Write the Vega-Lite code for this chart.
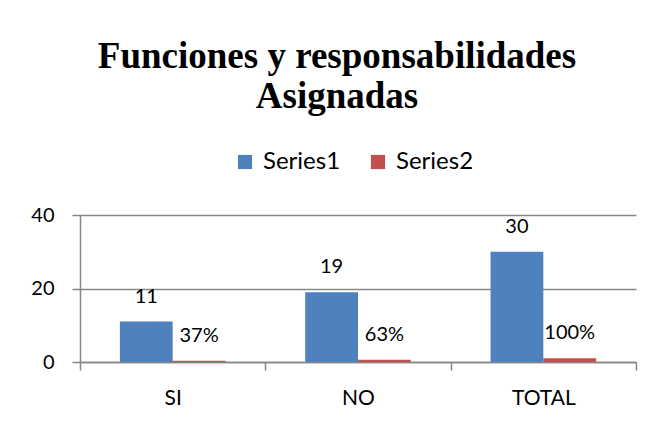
{
  "$schema": "https://vega.github.io/schema/vega-lite/v6.json",
  "width": 556,
  "height": 147,
  "autosize": "none",
  "padding": {"left": 80, "top": 215, "right": 16, "bottom": 59},
  "background": "white",
  "config": {
    "view": {"stroke": null},
    "font": "Lato",
    "axis": {"labelFont": "Lato", "labelColor": "black", "domainColor": "#878787", "tickColor": "#878787", "gridColor": "#878787", "domainWidth": 1.5, "tickWidth": 1.5, "gridWidth": 1.3}
  },
  "title": {
    "text": ["Funciones y responsabilidades", "Asignadas"],
    "font": "Liberation Serif",
    "fontSize": 37,
    "fontWeight": "bold",
    "color": "black",
    "anchor": "middle",
    "frame": "group",
    "baseline": "bottom",
    "dx": -21,
    "offset": -3,
    "lineHeight": 40
  },
  "data": {
    "values": [
      {"cat": "SI", "series": "Series1", "value": 11, "label": "11"},
      {"cat": "SI", "series": "Series2", "value": 0.37, "label": "37%"},
      {"cat": "NO", "series": "Series1", "value": 19, "label": "19"},
      {"cat": "NO", "series": "Series2", "value": 0.63, "label": "63%"},
      {"cat": "TOTAL", "series": "Series1", "value": 30, "label": "30"},
      {"cat": "TOTAL", "series": "Series2", "value": 1, "label": "100%"}
    ]
  },
  "encoding": {
    "x": {
      "field": "cat", "type": "nominal", "sort": ["SI", "NO", "TOTAL"],
      "scale": {"paddingInner": 0, "paddingOuter": 0},
      "axis": {"title": null, "labelAngle": 0, "tickBand": "extent", "tickSize": 8, "labelPadding": 17, "labelFontSize": 21, "grid": false}
    },
    "xOffset": {"field": "series", "type": "nominal", "sort": ["Series1", "Series2"], "scale": {"paddingInner": 0, "paddingOuter": 0.755}},
    "y": {
      "field": "value", "type": "quantitative",
      "scale": {"domain": [0, 40], "nice": false},
      "axis": {"title": null, "values": [0, 20, 40], "grid": true, "tickSize": 8, "labelPadding": 18, "labelFontSize": 20}
    }
  },
  "layer": [
    {
      "mark": {"type": "bar"},
      "encoding": {
        "color": {
          "field": "series", "type": "nominal",
          "scale": {"domain": ["Series1", "Series2"], "range": ["#4F81BD", "#C0504D"]},
          "legend": {
            "title": null, "orient": "none", "legendX": 153, "legendY": -65,
            "direction": "horizontal", "symbolType": "square", "symbolSize": 200,
            "symbolStrokeWidth": 0, "labelFontSize": 24, "labelFont": "Lato", "labelColor": "black",
            "labelOffset": 6, "columnPadding": 25
          }
        }
      }
    },
    {
      "mark": {"type": "text", "baseline": "middle", "dy": -25, "fontSize": 20, "font": "Lato", "color": "black"},
      "encoding": {"text": {"field": "label"}}
    }
  ]
}
